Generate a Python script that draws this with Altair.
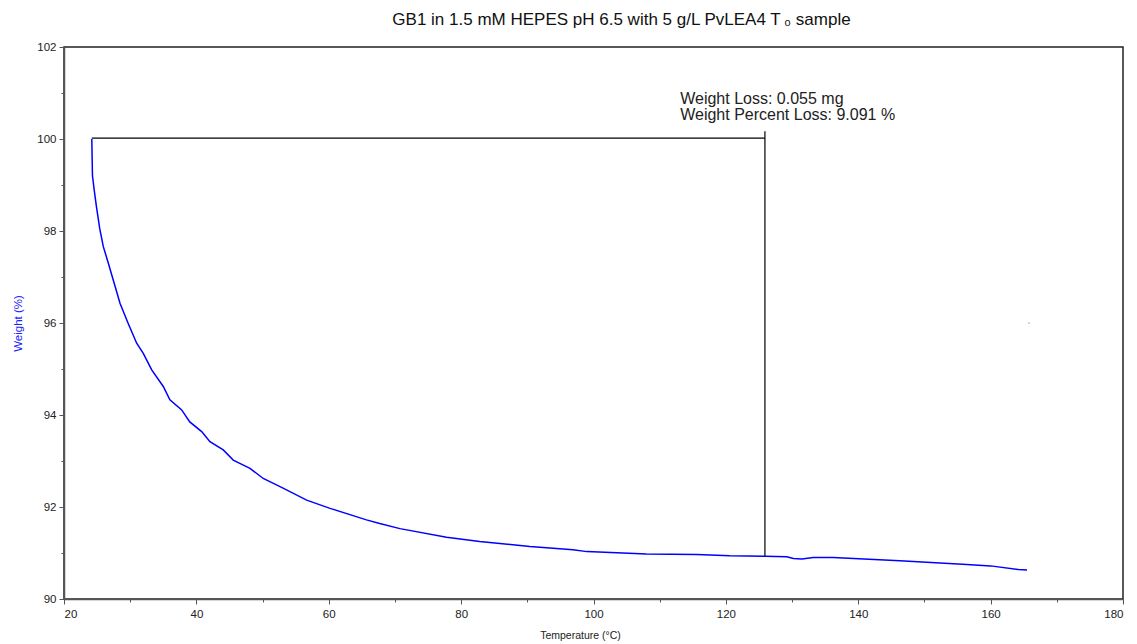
import altair as alt
import pandas as pd

# Weight curve (temperature in °C, weight in %)
temp = [24.20, 24.25, 24.30, 24.6, 24.9, 25.4, 25.94, 26.7, 27.45, 28.46, 29.7, 30.98,
        31.98, 33.25, 35.0, 36.0, 37.78, 39.0, 40.8, 42.05, 44.06, 45.57, 48.1, 50.1,
        53.1, 56.66, 60.2, 65.7, 67.7, 70.76, 77.8, 82.8, 90.4, 96.9, 99.0, 108.0,
        115.6, 120.6, 125.9, 129.2, 130.2, 131.5, 133.2, 136.2, 146.3, 156.4, 160.0,
        164.2, 165.5]
weight = [100.00, 99.60, 99.20, 98.85, 98.53, 98.05, 97.66, 97.30, 96.93, 96.43, 95.99,
          95.56, 95.34, 94.98, 94.62, 94.33, 94.11, 93.85, 93.64, 93.42, 93.24, 93.02,
          92.84, 92.62, 92.41, 92.15, 91.97, 91.72, 91.64, 91.53, 91.34, 91.25, 91.14,
          91.07, 91.03, 90.98, 90.97, 90.94, 90.93, 90.92, 90.88, 90.87, 90.90, 90.90,
          90.83, 90.75, 90.72, 90.64, 90.63]

# Weight-loss step marker
step_start_t = [24.2]
step_end_t = [125.9]
step_level = [100.02]
step_top = [100.17]
step_bottom = [90.93]

# Annotation
ann_t = [113.1]
ann_w = [100.76]
ann_text = [["Weight Loss: 0.055 mg", "Weight Percent Loss: 9.091 %"]]

# stray point
stray_t = [165.8]
stray_w = [96.0]

x_ticks = list(range(20, 181, 5))
y_ticks = [90 + 0.5 * i for i in range(25)]

FONT = "Liberation Sans"

curve_df = pd.DataFrame({"t": temp, "w": weight})
xs = alt.Scale(domain=[20, 180], nice=False, zero=False)
ys = alt.Scale(domain=[90, 102], nice=False, zero=False)

x_axis = alt.Axis(
    values=x_ticks,
    labelExpr="datum.value % 20 === 0 ? datum.label : ''",
    tickSize={"condition": {"test": "datum.value % 20 === 0", "value": 5}, "value": 3},
    grid=False, labelFontSize=11.5, labelFont=FONT, labelColor="#222", labelPadding=4,
    title="Temperature  (°C)", titleFont=FONT, titleFontSize=10.5, titleFontWeight="normal",
    titleColor="#222", titleX=516, titleY=36, titleBaseline="middle", titleAlign="center",
    domainColor="#555", domainWidth=1.5, tickColor="#555", tickWidth=1,
)
y_axis = alt.Axis(
    values=y_ticks,
    labelExpr="datum.value % 2 === 0 ? datum.label : ''",
    tickSize={"condition": {"test": "datum.value % 2 === 0", "value": 5}, "value": 3},
    grid=False, labelFontSize=11.5, labelFont=FONT, labelColor="#222", labelPadding=3,
    title="Weight (%)", titleFont=FONT, titleFontSize=11.5, titleFontWeight="normal",
    titleColor="#2020ff", titleX=-46, titleY=276, titleAngle=-90, titleBaseline="middle",
    titleAlign="center",
    domainColor="#555", domainWidth=1.5, tickColor="#555", tickWidth=1,
)

curve = alt.Chart(curve_df).mark_line(color="#0000ff", strokeWidth=1.5).encode(
    x=alt.X("t:Q", scale=xs, axis=x_axis),
    y=alt.Y("w:Q", scale=ys, axis=y_axis),
)

step_df = pd.DataFrame({"t0": step_start_t, "t1": step_end_t, "lvl": step_level,
                        "top": step_top, "bot": step_bottom})
hline = alt.Chart(step_df).mark_rule(color="black", strokeWidth=1.2).encode(
    x="t0:Q", x2="t1:Q", y="lvl:Q")
vline = alt.Chart(step_df).mark_rule(color="black", strokeWidth=1.2).encode(
    x="t1:Q", y="top:Q", y2="bot:Q")

ann_df = pd.DataFrame({"t": ann_t, "w": ann_w, "txt": ann_text})
ann = alt.Chart(ann_df).mark_text(
    align="left", baseline="alphabetic", font=FONT, fontSize=16, color="#222",
    lineHeight=16,
).encode(x="t:Q", y="w:Q", text="txt")

stray_df = pd.DataFrame({"t": stray_t, "w": stray_w})
stray = alt.Chart(stray_df).mark_point(filled=True, size=2, color="#2e8b2e").encode(
    x="t:Q", y="w:Q")

chart = alt.layer(curve, hline, vline, ann, stray).properties(
    width=1059, height=552,
    title=alt.TitleParams(
        "GB1 in 1.5 mM HEPES pH 6.5 with 5 g/L PvLEA4 T\u2009\u2080 sample",
        font=FONT, fontSize=17, fontWeight="normal", color="#111",
        anchor="middle", frame="group", dx=28, offset=12,
    ),
    autosize=alt.AutoSizeParams(type="none"),
    padding={"left": 56, "top": 39, "right": 6, "bottom": 43},
).configure_view(stroke="#222", strokeWidth=1.5)

chart.save("out.html", embed_options={"renderer": "svg", "actions": False})
